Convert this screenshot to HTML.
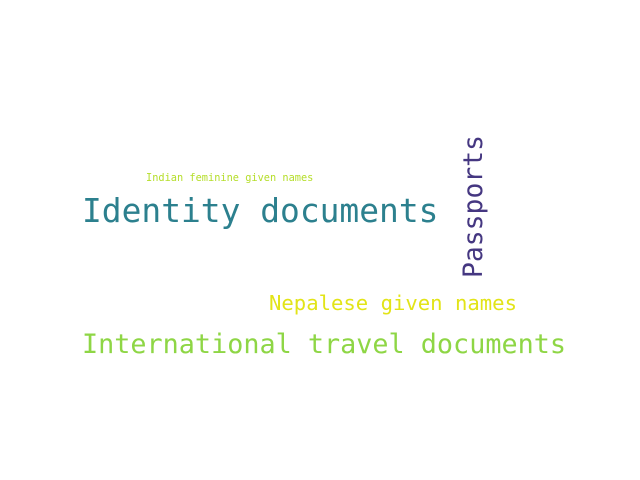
<!DOCTYPE html>
<html><head><meta charset="utf-8"><style>
html,body{margin:0;padding:0;background:#fff;}
svg{display:block;}
text{font-family:"DejaVu Sans Mono","Liberation Mono",monospace;}
</style></head><body>
<svg width="640" height="480">
<rect width="640" height="480" fill="#fff"/>
<text x="146" y="181" font-size="10.3" fill="#b5de2b">Indian feminine given names</text>
<text x="82" y="222" font-size="32.9" fill="#2c808e">Identity documents</text>
<text transform="translate(482,278) rotate(-90)" font-size="26.4" fill="#453781">Passports</text>
<text x="269" y="310" font-size="20.6" fill="#e2e418">Nepalese given names</text>
<text x="82" y="353" font-size="26.8" fill="#8ed645">International travel documents</text>
</svg>
</body></html>
